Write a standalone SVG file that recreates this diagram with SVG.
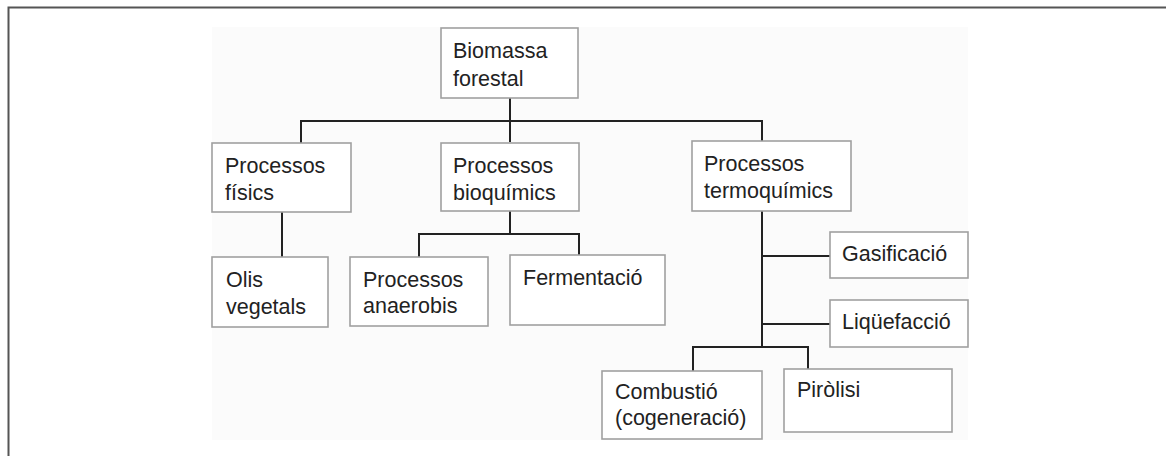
<svg xmlns="http://www.w3.org/2000/svg" width="1166" height="456" viewBox="0 0 1166 456">
<style>
.box{fill:#ffffff;stroke:#a0a0a0;stroke-width:1.6}
.t{font-family:"Liberation Sans",Arial,sans-serif;font-size:21.5px;fill:#222}
.c{fill:none;stroke:#222;stroke-width:2}
</style>
<rect width="1166" height="456" fill="#ffffff"/>
<g id="frame">
<path d="M8.5 456 V7.5 H1166" fill="none" stroke="#555" stroke-width="2"/>
</g>
<rect x="212" y="27" width="756" height="413" fill="#fbfbfb"/>
<g id="connectors">
<path class="c" d="M510 98 V142"/>
<path class="c" d="M301 143 V121 H762 V141"/>
<path class="c" d="M282 211 V257"/>
<path class="c" d="M510 211 V234"/>
<path class="c" d="M419 257 V234 H579 V255"/>
<path class="c" d="M762 211 V347"/>
<path class="c" d="M762 256 H830"/>
<path class="c" d="M762 324 H830"/>
<path class="c" d="M693 371 V347 H808 V370"/>
</g>
<g id="biomassa"><rect class="box" x="441" y="28" width="137" height="70"/><text class="t" x="453" y="58">Biomassa</text><text class="t" x="453" y="86">forestal</text></g>
<g id="fisics"><rect class="box" x="212" y="143" width="139" height="69"/><text class="t" x="225" y="173">Processos</text><text class="t" x="225" y="200">físics</text></g>
<g id="bioquimics"><rect class="box" x="441" y="143" width="138" height="68"/><text class="t" x="453" y="173">Processos</text><text class="t" x="453" y="200">bioquímics</text></g>
<g id="termoquimics"><rect class="box" x="692" y="141" width="159" height="70"/><text class="t" x="704" y="171">Processos</text><text class="t" x="704" y="198">termoquímics</text></g>
<g id="olis"><rect class="box" x="212" y="257" width="116" height="70"/><text class="t" x="226" y="287">Olis</text><text class="t" x="226" y="314">vegetals</text></g>
<g id="anaerobis"><rect class="box" x="350" y="257" width="138" height="69"/><text class="t" x="363" y="287">Processos</text><text class="t" x="363" y="313">anaerobis</text></g>
<g id="fermentacio"><rect class="box" x="510" y="255" width="155" height="70"/><text class="t" x="523" y="285">Fermentació</text></g>
<g id="gasificacio"><rect class="box" x="830" y="232" width="138" height="46"/><text class="t" x="842" y="261">Gasificació</text></g>
<g id="liquefaccio"><rect class="box" x="830" y="300" width="138" height="47"/><text class="t" x="842" y="329">Liqüefacció</text></g>
<g id="combustio"><rect class="box" x="602" y="371" width="160" height="68"/><text class="t" x="615" y="399">Combustió</text><text class="t" x="615" y="425">(cogeneració)</text></g>
<g id="pirolisi"><rect class="box" x="784" y="369" width="168" height="63"/><text class="t" x="797" y="397">Piròlisi</text></g>
</svg>
